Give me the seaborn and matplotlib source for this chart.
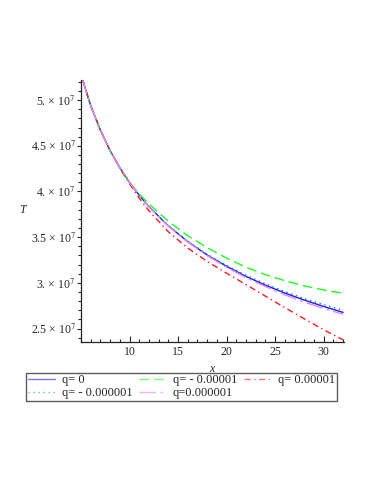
import matplotlib
matplotlib.use("Agg")
import matplotlib.pyplot as plt
from matplotlib.ticker import FixedLocator, MultipleLocator
import seaborn as sns
import pandas as pd

# ---- data ----
x_vals = [5.1, 6, 7, 8, 9, 10, 11, 12, 14, 16, 18, 20, 22, 24, 26, 28, 30, 32]
T_q0 = [5.245e7, 4.94e7, 4.67e7, 4.447e7, 4.26e7, 4.099e7, 3.958e7, 3.834e7, 3.624e7, 3.451e7,
        3.305e7, 3.181e7, 3.071e7, 2.975e7, 2.889e7, 2.812e7, 2.742e7, 2.677e7]
T_qm5 = [5.245e7, 4.94e7, 4.67e7, 4.447e7, 4.26e7, 4.10e7, 3.973e7, 3.864e7, 3.674e7, 3.516e7,
         3.385e7, 3.271e7, 3.171e7, 3.09e7, 3.024e7, 2.967e7, 2.922e7, 2.887e7]
T_qp5 = [5.245e7, 4.94e7, 4.67e7, 4.447e7, 4.255e7, 4.084e7, 3.928e7, 3.789e7, 3.559e7, 3.381e7,
         3.235e7, 3.106e7, 2.981e7, 2.855e7, 2.729e7, 2.607e7, 2.487e7, 2.377e7]
T_qm6 = [5.245e7, 4.94e7, 4.67e7, 4.447e7, 4.26e7, 4.099e7, 3.958e7, 3.834e7, 3.626e7, 3.455e7,
         3.312e7, 3.191e7, 3.083e7, 2.99e7, 2.905e7, 2.828e7, 2.762e7, 2.702e7]
T_qp6 = [5.245e7, 4.94e7, 4.67e7, 4.447e7, 4.26e7, 4.099e7, 3.958e7, 3.833e7, 3.622e7, 3.447e7,
         3.298e7, 3.171e7, 3.058e7, 2.96e7, 2.87e7, 2.79e7, 2.72e7, 2.657e7]
labels = ["q= 0", "q= - 0.00001", "q= 0.00001", "q= - 0.000001", "q=0.000001"]
x_ticks = [10, 15, 20, 25, 30]
y_ticks = [2.5e7, 3.0e7, 3.5e7, 4.0e7, 4.5e7, 5.0e7]
y_tick_mantissa = ["2.5", "3.", "3.5", "4.", "4.5", "5."]

series = [T_q0, T_qm5, T_qp5, T_qm6, T_qp6]
colors = ["#1a1aff", "#1aff1a", "#ff1a1a", "#008c8c", "#ee82ee"]
dashes = [(None, None), (7, 3.5), (4.5, 2.5, 1, 2.5), (1, 2.6), (12, 3, 2, 3)]

sns.set_style("ticks")
plt.rcParams["font.family"] = ["Liberation Serif", "DejaVu Serif"]
plt.rcParams["mathtext.fontset"] = "stix"

fig = plt.figure(figsize=(3.74, 4.84), dpi=100)
ax = fig.add_axes([81 / 374, 1 - 342 / 484, 263 / 374, 262 / 484])

handles = []
for ys, lab, c, d in zip(series, labels, colors, dashes):
    df = pd.DataFrame({"x": x_vals, "T": ys})
    sns.lineplot(data=df, x="x", y="T", ax=ax, color=c, lw=1.0, label=lab, legend=False)
    line = ax.lines[-1]
    if d[0] is not None:
        line.set_dashes(d)
    handles.append(line)

ax.set_xlim(5, 32.1)
ax.set_ylim(2.353e7, 5.22e7)
ax.xaxis.set_major_locator(FixedLocator(x_ticks))
ax.xaxis.set_minor_locator(MultipleLocator(1))
ax.yaxis.set_major_locator(FixedLocator(y_ticks))
ax.yaxis.set_minor_locator(MultipleLocator(0.1e7))
ax.set_xticklabels([str(t) for t in x_ticks])
ax.set_yticklabels([m + r" × 10$^{7}$" for m in y_tick_mantissa])
ax.tick_params(axis="x", which="major", direction="in", length=4, width=0.8, labelsize=8.5, pad=3)
ax.tick_params(axis="x", which="minor", direction="in", length=2.5, width=0.8)
ax.tick_params(axis="y", which="major", direction="out", length=3, width=0.8, labelsize=8.5, pad=1)
ax.tick_params(axis="y", which="minor", direction="out", length=2, width=0.8)
for s in ["top", "right"]:
    ax.spines[s].set_visible(False)
for s in ["left", "bottom"]:
    ax.spines[s].set_linewidth(0.9)
    ax.spines[s].set_color("#222222")

ax.set_xlabel("x", fontstyle="italic", fontsize=8.5)
ax.set_ylabel("T", fontstyle="italic", fontsize=8.5, rotation=0)
ax.xaxis.set_label_coords(0.498, -0.08)
ax.yaxis.set_label_coords(-0.224, 0.48)

order = [0, 3, 1, 4, 2]
leg = fig.legend([handles[i] for i in order], [labels[i] for i in order],
                 loc="lower left", bbox_to_anchor=(26 / 374, 1 - 401 / 484, 311 / 374, 32 / 484),
                 mode="expand", ncol=3, borderaxespad=0, fontsize=9, frameon=True,
                 fancybox=False, edgecolor="#333333", handlelength=2.2, handletextpad=0.5,
                 borderpad=0.15, labelspacing=0.05, columnspacing=0.8)
leg.get_frame().set_linewidth(1.0)
for lh in leg.get_lines():
    lh.set_alpha(0.6)

fig.savefig("out.png", dpi=100)
